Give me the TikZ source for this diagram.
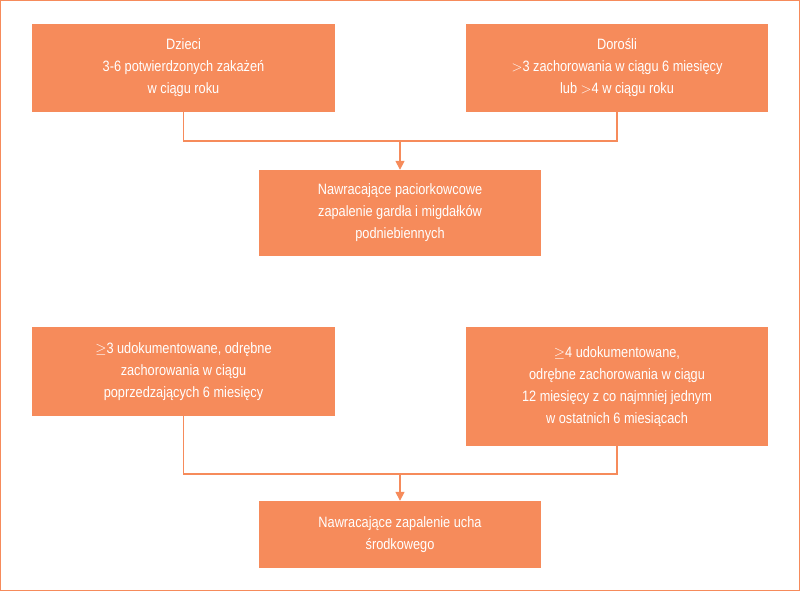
\documentclass[tikz,border=0pt]{standalone}
\usepackage{fontspec}
\setmainfont[FakeStretch=0.85]{Liberation Sans}
\usetikzlibrary{arrows.meta}
\definecolor{org}{HTML}{F68B5B}
\begin{document}
\begin{tikzpicture}[x=1pt,y=-1pt,
  box/.style={fill=org,text=white,align=center,inner sep=0pt,font=\fontsize{15}{22}\selectfont},
  ln/.style={draw=org,line width=1.6pt},
  arr/.style={ln,-{Triangle[length=9pt,width=9pt]}}]
\draw[org,line width=1pt] (0.5,0.5) rectangle (799.5,590.5);
\node[box,minimum width=303,minimum height=88] (a) at (183.5,68) {Dzieci\\3-6 potwierdzonych zakażeń\\w ciągu roku};
\node[box,minimum width=302,minimum height=88] (b) at (617,68) {Dorośli\\$>$3 zachorowania w ciągu 6 miesięcy\\lub $>$4 w ciągu roku};
\node[box,minimum width=282,minimum height=86] (c) at (400,213) {Nawracające paciorkowcowe\\zapalenie gardła i migdałków\\podniebiennych};
\node[box,minimum width=303,minimum height=89] (d) at (183.5,371.5) {$\geq$3 udokumentowane, odrębne\\zachorowania w ciągu\\poprzedzających 6 miesięcy};
\node[box,minimum width=302,minimum height=119] (e) at (617,386.5) {$\geq$4 udokumentowane,\\odrębne zachorowania w ciągu\\12 miesięcy z co najmniej jednym\\w ostatnich 6 miesiącach};
\node[box,minimum width=282,minimum height=67] (f) at (400,534.5) {Nawracające zapalenie ucha\\środkowego};
\coordinate (j1) at (400,141);
\coordinate (j2) at (400,474);
\draw[ln] (a.south) |- (j1) -| (b.south);
\draw[arr] (j1) -- (c.north);
\draw[ln] (d.south) |- (j2) -| (e.south);
\draw[arr] (j2) -- (f.north);
\end{tikzpicture}
\end{document}
